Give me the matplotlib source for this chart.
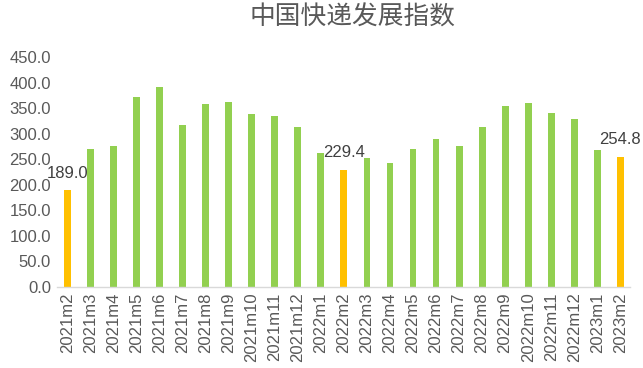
import matplotlib
matplotlib.use("Agg")
import matplotlib.pyplot as plt

plt.rcParams['font.family'] = ['Noto Sans CJK SC', 'DejaVu Sans']

months = ["2021m2", "2021m3", "2021m4", "2021m5", "2021m6", "2021m7", "2021m8",
          "2021m9", "2021m10", "2021m11", "2021m12", "2022m1", "2022m2", "2022m3",
          "2022m4", "2022m5", "2022m6", "2022m7", "2022m8", "2022m9", "2022m10",
          "2022m11", "2022m12", "2023m1", "2023m2"]
values = [189.0, 270.5, 275.9, 371.4, 391.0, 317.0, 358.4, 362.0, 338.7, 334.8,
          313.0, 261.4, 229.4, 252.9, 241.7, 270.5, 290.2, 275.9, 312.5, 355.0,
          359.0, 341.3, 328.2, 267.2, 254.8]
highlight = ["2021m2", "2022m2", "2023m2"]
yticks = [0, 50, 100, 150, 200, 250, 300, 350, 400, 450]

green = "#92D050"
orange = "#FFC000"
colors = [orange if m in highlight else green for m in months]

fig = plt.figure(figsize=(6.43, 3.68), dpi=100)
ax = fig.add_axes([0.088, 0.221, 0.892, 0.624])
x = list(range(len(months)))
ax.bar(x, values, width=0.3, color=colors)

for i, (m, v) in enumerate(zip(months, values)):
    if m in highlight:
        ax.text(i, v + 18, f"{v:.1f}", ha="center", va="bottom",
                fontsize=12, color="#404040", family=['Liberation Sans', 'DejaVu Sans'])

ax.set_ylim(0, 450)
ax.set_xlim(-0.48, 24.43)
ax.set_yticks(yticks)
ax.set_yticklabels([f"{t:.1f}" for t in yticks], fontsize=12, color="#595959",
                   family=['Liberation Sans', 'DejaVu Sans'])
ax.set_xticks(x)
ax.set_xticklabels(months, rotation=90, fontsize=12, color="#595959",
                   family=['Liberation Sans', 'DejaVu Sans'])
ax.tick_params(axis='both', length=0, pad=4)
for s in ["top", "right", "left"]:
    ax.spines[s].set_visible(False)
ax.spines["bottom"].set_color("#D9D9D9")
ax.spines["bottom"].set_linewidth(1.0)

fig.text(0.549, 0.952, "中国快递发展指数", ha="center", va="center", fontsize=18.5,
         color="#595959")

fig.savefig("out.png", dpi=100)
